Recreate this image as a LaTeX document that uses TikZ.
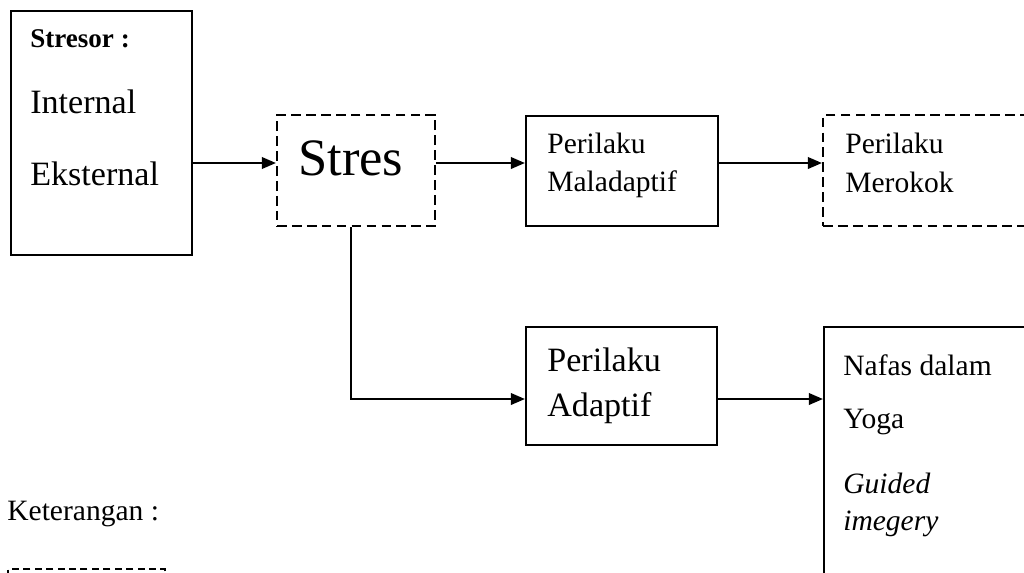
\documentclass[tikz,border=0pt]{standalone}
\usepackage{fontspec}
\setmainfont{Liberation Serif}
\usepackage{tikz}
\usetikzlibrary{arrows.meta}

\tikzset{
  box/.style={draw, line width=1.2pt, inner sep=0pt},
  dbox/.style={box, dash pattern=on 5.5pt off 3pt},
  arr/.style={line width=1.3pt, -{Triangle[length=8pt, width=6.5pt]}},
  txt/.style={anchor=base west, inner sep=0pt},
  big/.style={txt, font=\fontsize{19.4}{22}\selectfont},
  mid/.style={txt, font=\fontsize{16.8}{20}\selectfont}
}

\begin{document}
\begin{tikzpicture}[x=0.02cm, y=-0.02cm]
    \useasboundingbox (0,0) rectangle (1024,572);
    \clip (0,0) rectangle (1024,572);
    \coordinate (row1) at (0,163);
    \coordinate (row2) at (0,399);

    % boxes
    \node[box, minimum width=3.62cm, minimum height=4.88cm] (stresor) at (101.5,133) {};
    \node[dbox, minimum width=3.16cm, minimum height=2.22cm] (stres) at (356,170.5) {};
    \node[box, minimum width=3.84cm, minimum height=2.2cm] (maladaptif) at (622,171) {};
    \node[dbox, minimum width=4.54cm, minimum height=2.22cm] (merokok) at (936.5,170.5) {};
    \node[box, minimum width=3.82cm, minimum height=2.36cm] (adaptif) at (621.5,386) {};
    \node[box, minimum width=4.52cm, minimum height=5.86cm] (cara) at (937,473.5) {};
    \node[box, dash pattern=on 4pt off 2.5pt, minimum width=3.14cm, minimum height=1.02cm] (legenda) at (86.5,594.5) {};

    % texts
    \node[txt, font=\bfseries\fontsize{15.4}{18}\selectfont] (tstresor) at (30,47) {Stresor :};
    \node[big] (tinternal) at (30,113) {Internal};
    \node[big] (teksternal) at (30,185) {Eksternal};
    \node[txt, font=\fontsize{29.9}{34}\selectfont] (tstres) at (298,175) {Stres};
    \node[mid] (tmal1) at (547,153) {Perilaku};
    \node[mid] (tmal2) at (547,191) {Maladaptif};
    \node[mid] (tmer1) at (845,153) {Perilaku};
    \node[mid] (tmer2) at (845,192) {Merokok};
    \node[big] (tad1) at (547,371) {Perilaku};
    \node[big] (tad2) at (547,416) {Adaptif};
    \node[mid] (tnafas) at (843,375) {Nafas dalam};
    \node[mid] (tyoga) at (843,428) {Yoga};
    \node[mid, font=\itshape\fontsize{16.8}{20}\selectfont] (tguided) at (843,493) {Guided};
    \node[mid, font=\itshape\fontsize{16.8}{20}\selectfont] (timegery) at (843,530) {imegery};
    \node[mid] (tket) at (7,520) {Keterangan :};

    % connectors
    \draw[arr] (stresor.east |- row1) -- (stres.west |- row1);
    \draw[arr] (stres.east |- row1) -- (maladaptif.west |- row1);
    \draw[arr] (maladaptif.east |- row1) -- (merokok.west |- row1);
    \draw[arr] ([xshift=-3]stres.south) |- (adaptif.west |- row2);
    \draw[arr] (adaptif.east |- row2) -- (cara.west |- row2);
\end{tikzpicture}
\end{document}
